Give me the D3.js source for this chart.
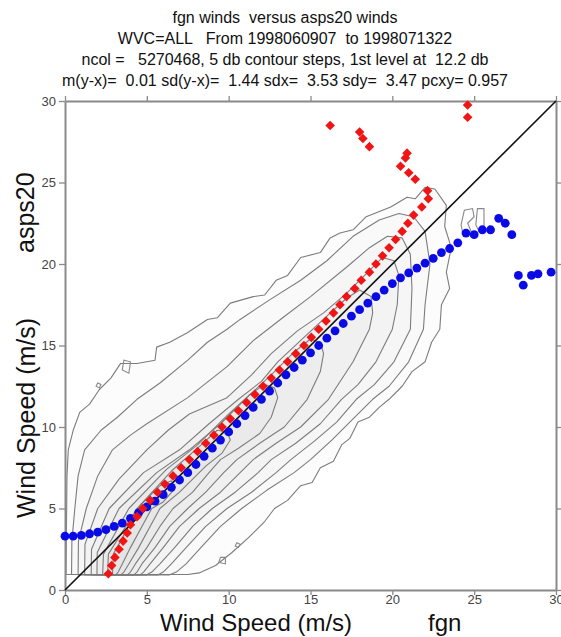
<!DOCTYPE html>
<html>
<head>
<meta charset="utf-8">
<script src="https://cdn.jsdelivr.net/npm/d3@7"></script>
<style>
  body { margin: 0; background: #fff; }
  text { font-family: "Liberation Sans", Arial, sans-serif; white-space: pre; }
</style>
</head>
<body>
<div id="chart"></div>
<script>
// ---- data ----
const titleLines = [
  "fgn winds  versus asps20 winds",
  "WVC=ALL   From 1998060907  to 1998071322",
  "ncol =   5270468, 5 db contour steps, 1st level at  12.2 db",
  "m(y-x)=  0.01 sd(y-x)=  1.44 sdx=  3.53 sdy=  3.47 pcxy= 0.957"
];
const xLabel = "Wind Speed (m/s)";
const xName = "fgn";
const yLabel = "Wind Speed (m/s)";
const yName = "asps20";
const axisTicks = [0, 5, 10, 15, 20, 25, 30];

// red: mean fgn for each asps20 bin
const redY = [1.0,1.5,2.0,2.5,3.0,3.5,4.0,4.5,5.0,5.5,6.0,6.5,7.0,7.5,8.0,8.5,9.0,9.5,10.0,10.5,
  11.0,11.5,12.0,12.5,13.0,13.5,14.0,14.5,15.0,15.5,16.0,16.5,17.0,17.5,18.0,18.5,19.0,19.5,20.0,20.5,
  21.0,21.5,22.0,22.5,23.0,23.5,24.0,24.5,25.2,25.6,26.0,26.5,26.8,27.2,27.7,28.1,28.5,29.0,29.75];
const redX = [2.65,2.85,3.05,3.3,3.55,3.8,4.0,4.4,4.75,5.2,5.65,6.1,6.6,7.1,7.6,8.1,8.6,9.1,9.6,10.1,
  10.6,11.1,11.6,12.1,12.6,13.1,13.6,14.1,14.6,15.05,15.5,15.95,16.4,16.8,17.2,17.7,18.1,18.6,19.0,19.4,
  19.8,20.2,20.6,20.95,21.3,21.8,22.2,22.15,21.4,21.0,20.5,20.8,20.9,18.6,18.2,18.0,16.2,24.6,24.6];

// blue: mean asps20 for each fgn bin
const blueX = [0,0.5,1.0,1.5,2.0,2.5,3.0,3.5,4.0,4.5,5.0,5.5,6.0,6.5,7.0,7.5,8.0,8.5,9.0,9.5,
  10.0,10.5,11.0,11.5,12.0,12.5,13.0,13.5,14.0,14.5,15.0,15.5,16.0,16.5,17.0,17.5,18.0,18.5,19.0,19.5,
  20.0,20.5,21.0,21.5,22.0,22.5,23.0,23.5,24.0,24.5,25.0,25.5,26.0,26.5,26.9,27.3,27.7,28.0,28.5,28.9,29.7];
const blueY = [3.3,3.3,3.35,3.45,3.55,3.7,3.9,4.1,4.4,4.75,5.1,5.45,5.85,6.3,6.75,7.2,7.7,8.2,8.7,9.2,
  9.7,10.2,10.7,11.2,11.7,12.2,12.7,13.2,13.65,14.1,14.55,15.0,15.45,15.9,16.35,16.8,17.2,17.6,18.0,18.4,
  18.8,19.15,19.45,19.75,20.05,20.35,20.7,20.95,21.3,21.9,21.8,22.1,22.1,22.8,22.5,21.8,19.3,18.7,19.3,19.4,19.5];

const diagonal = [0, 30];

// density contours (outermost first), [fgn, asps20] vertices
const contours = [
  [[0.06,0.95],[0.08,3],[0.1,5],[0.12,7],[0.2,8.6],[0.5,9.8],[0.9,10.9],[1.5,11.4],[2.1,12.3],[2.8,13.0],
   [3.4,13.9],[4.4,13.9],[5.5,14.1],[5.6,14.9],[6.4,15.2],[7.5,15.8],[8.7,16.6],[9.3,16.7],[10.1,17.6],[11.5,18.0],
   [12.2,18.1],[12.9,19.0],[13.6,19.3],[14.4,20.4],[15.6,20.7],[16.2,21.6],[16.8,21.9],[17.6,22.1],[18.4,22.9],[19.9,23.5],
   [20.9,24.1],[21.4,24.0],[22.0,24.7],[22.6,24.6],[23.3,23.6],[23.2,22.3],[23.6,21.0],[23.3,19.5],[23.5,18.5],[23.0,17.5],
   [22.9,16.0],[22.4,15.2],[22.0,14.0],[21.2,13.4],[20.6,12.5],[19.8,11.7],[19.2,11.2],[18.6,10.6],[17.9,10.3],[17.4,9.3],
   [16.9,8.9],[16.4,7.9],[15.6,7.5],[15.1,6.6],[14.4,6.4],[13.6,5.5],[12.8,5.0],[12.2,4.2],[11.2,3.2],[10.2,2.3],
   [9.2,1.5],[8.2,1.05],[7.5,0.95]],
  [[0.4,0.95],[0.42,3],[0.6,5],[0.8,7],[1.2,8.6],[2.2,9.8],[3.2,10.6],[4.4,11.7],[5.8,12.7],[7.5,14.1],
   [8.7,15.2],[9.9,16.0],[10.7,16.6],[12.5,17.8],[14.4,19.0],[16.0,20.2],[17.6,21.7],[19.2,22.7],[20.4,23.1],[21.3,22.9],
   [22.0,22.0],[22.3,20.0],[22.0,17.5],[21.9,16.0],[21.0,14.0],[19.8,12.5],[18.8,11.7],[17.6,10.5],[16.3,9.2],[15.0,8.0],
   [14.0,7.2],[12.3,6.1],[10.8,5.0],[9.5,3.9],[8.3,2.6],[7.4,1.6],[6.8,1.1],[6.4,0.93]],
  [[0.8,0.93],[0.82,3],[1.3,5],[2.0,7.0],[2.9,8.6],[4.0,9.5],[5.0,10.2],[7.5,11.8],[9.9,13.7],[11.5,15.3],
   [13.3,16.7],[15.0,18.0],[17.2,19.8],[18.6,21.0],[19.7,21.7],[20.6,21.6],[21.1,20.6],[21.2,18.5],[21.1,16.0],[20.1,14.0],
   [18.9,12.6],[17.8,11.7],[16.6,10.3],[15.2,9.1],[13.8,8.0],[12.9,7.2],[11.4,6.0],[9.9,5.0],[8.6,3.9],[7.4,2.6],
   [6.5,1.6],[6.0,1.1],[5.7,0.93]],
  [[1.2,0.93],[1.22,2.8],[2.0,5],[3.3,6.8],[5.0,8.6],[6.3,9.8],[7.6,10.8],[9.9,11.8],[11.4,13.2],[12.6,14.5],
   [14.2,15.9],[15.8,17.0],[17.2,18.2],[18.6,19.6],[19.4,20.4],[20.1,20.2],[20.4,19.3],[20.3,17.5],[20.0,16.0],[19.0,14.0],
   [17.9,12.6],[16.9,11.7],[15.6,10.2],[14.1,9.0],[12.6,8.0],[11.8,7.2],[10.4,6.0],[9.0,5.0],[7.8,3.9],[6.7,2.6],
   [5.8,1.6],[5.3,1.1],[5.0,0.93]],
  [[1.6,0.93],[1.62,2.5],[2.7,5],[4.8,7.2],[7.0,8.6],[8.8,10.2],[10.6,11.7],[12.0,12.8],[13.0,14.0],[14.6,15.5],
   [16.0,16.8],[17.2,17.9],[18.0,18.4],[18.7,18.0],[18.8,17.0],[18.6,16.0],[17.6,14.0],[16.1,11.7],[14.4,10.0],[12.9,9.0],
   [11.5,8.0],[10.7,7.2],[9.5,6.0],[8.2,5.0],[7.0,3.9],[6.0,2.6],[5.2,1.6],[4.8,1.1],[4.6,0.93]],
  [[1.95,0.93],[1.97,2.3],[3.3,5],[5.6,7.2],[7.6,8.6],[9.5,10.2],[11.0,11.7],[12.6,13.2],[14.0,14.6],[15.0,15.4],
   [15.6,15.2],[15.8,14.5],[15.6,13.4],[14.8,11.7],[13.4,10.0],[11.9,9.0],[10.5,8.0],[9.7,7.2],[8.6,6.0],[7.5,5.0],
   [6.4,3.9],[5.5,2.6],[4.7,1.6],[4.4,1.1],[4.2,0.93]],
  [[2.3,0.93],[2.35,2.2],[3.9,5],[6.2,7.4],[8.1,8.9],[9.8,10.6],[11.3,12.0],[12.2,12.6],[12.8,12.4],[13.0,11.8],
   [12.6,10.6],[11.9,9.6],[10.6,8.7],[9.5,8.0],[8.8,7.2],[7.8,6.0],[6.6,5.0],[5.8,3.9],[5.0,2.6],[4.3,1.6],
   [4.0,1.1],[3.8,0.93]],
  [[2.6,0.93],[2.65,2.2],[4.4,5],[6.5,7.3],[8.2,8.8],[9.3,9.8],[9.9,9.7],[10.1,9.2],[9.6,8.4],[8.6,7.6],
   [7.0,6.0],[5.8,5.0],[5.2,3.9],[4.5,2.6],[3.9,1.6],[3.6,1.1],[3.4,0.93]],
  [[2.9,0.93],[2.95,2.2],[4.6,5.2],[5.8,6.4],[6.5,6.7],[6.7,6.2],[6.0,5.4],[5.3,5.0],[4.7,3.9],[4.0,2.6],
   [3.5,1.6],[3.25,1.1],[3.1,0.93]]
];

// small isolated contour loops
const islands = [
  [[24.2,22.4],[24.4,23.3],[24.9,23.4],[25.0,22.9],[24.6,22.5],[24.9,21.8],[24.3,21.9]],
  [[25.1,22.4],[25.2,23.4],[25.6,23.4],[25.6,22.3],[25.3,22.0]],
  [[3.5,13.5],[3.6,14.1],[4.0,14.0],[3.9,13.3]],
  [[9.4,1.7],[9.5,2.0],[9.8,2.0],[9.8,1.6]],
  [[10.4,2.7],[10.5,2.9],[10.7,2.8],[10.6,2.6]],
  [[1.9,12.5],[2.0,12.7],[2.2,12.6],[2.1,12.4]]
];

// ---- drawing ----
const width = 561, height = 637;
const plot = {left: 65, right: 556, top: 101, bottom: 590};

const svg = d3.select("#chart").append("svg")
  .attr("width", width)
  .attr("height", height);

const xScale = d3.scaleLinear().domain([0, 30]).range([plot.left, plot.right]);
const yScale = d3.scaleLinear().domain([0, 30]).range([plot.bottom, plot.top]);

// title
svg.append("g").selectAll("text")
  .data(titleLines)
  .enter().append("text")
  .attr("x", 285)
  .attr("y", (d, i) => 23 + i * 21)
  .attr("text-anchor", "middle")
  .style("font-size", "16px")
  .style("fill", "#111")
  .text(d => d);

// contours
const line = d3.line()
  .x(d => xScale(d[0]))
  .y(d => yScale(d[1]))
  .curve(d3.curveLinearClosed);

svg.append("g").selectAll("path")
  .data(contours)
  .enter().append("path")
  .attr("d", line)
  .style("fill", "#000")
  .style("fill-opacity", 0.012)
  .style("stroke", "#7c7c7c")
  .style("stroke-width", 1.1)
  .style("stroke-linejoin", "round");

svg.append("g").selectAll("path")
  .data(islands)
  .enter().append("path")
  .attr("d", line)
  .style("fill", "none")
  .style("stroke", "#888")
  .style("stroke-width", 1.1);

// axes
const axisStyle = g => {
  g.selectAll(".domain").style("stroke", "#8a8a8a").style("stroke-width", 2);
  g.selectAll(".tick line").style("stroke", "#8a8a8a").style("stroke-width", 1.3);
  g.selectAll(".tick text")
    .style("font-family", "'Liberation Sans', Arial, sans-serif")
    .style("font-size", "13px")
    .style("fill", "#444");
};

svg.append("g")
  .attr("transform", `translate(0,${plot.bottom})`)
  .call(d3.axisBottom(xScale).tickValues(axisTicks).tickSize(5).tickPadding(0).tickSizeOuter(0))
  .call(axisStyle);
svg.append("g")
  .attr("transform", `translate(0,${plot.top})`)
  .call(d3.axisTop(xScale).tickValues(axisTicks).tickSize(5).tickFormat("").tickSizeOuter(0))
  .call(axisStyle);
svg.append("g")
  .attr("transform", `translate(${plot.left},0)`)
  .call(d3.axisLeft(yScale).tickValues(axisTicks).tickSize(6).tickPadding(3).tickSizeOuter(0))
  .call(axisStyle);
svg.append("g")
  .attr("transform", `translate(${plot.right},0)`)
  .call(d3.axisRight(yScale).tickValues(axisTicks).tickSize(5).tickFormat("").tickSizeOuter(0))
  .call(axisStyle);

// diagonal y = x
svg.append("line")
  .attr("x1", xScale(diagonal[0])).attr("y1", yScale(diagonal[0]))
  .attr("x2", xScale(diagonal[1])).attr("y2", yScale(diagonal[1]))
  .style("stroke", "#111")
  .style("stroke-width", 1.6);

// blue circles
svg.append("g").selectAll("circle")
  .data(blueX)
  .enter().append("circle")
  .attr("cx", d => xScale(d))
  .attr("cy", (d, i) => yScale(blueY[i]))
  .attr("r", 4.4)
  .style("fill", "#0a0ae6");

// red diamonds
const diamond = d3.symbol().type(d3.symbolSquare).size(46);
svg.append("g").selectAll("path")
  .data(redY)
  .enter().append("path")
  .attr("d", diamond)
  .attr("transform", (d, i) => `translate(${xScale(redX[i])},${yScale(d)}) rotate(45)`)
  .style("fill", "#f01414");

// axis titles
svg.append("text")
  .attr("x", 160).attr("y", 631)
  .style("font-size", "24px").style("fill", "#111")
  .text(xLabel);
svg.append("text")
  .attr("x", 428).attr("y", 631)
  .style("font-size", "24px").style("fill", "#111")
  .text(xName);
svg.append("text")
  .attr("transform", "translate(35,518) rotate(-90)")
  .style("font-size", "25px").style("fill", "#111")
  .text(yLabel);
svg.append("text")
  .attr("transform", "translate(34,253) rotate(-90)")
  .style("font-size", "25px").style("fill", "#111")
  .text(yName);
</script>
</body>
</html>
